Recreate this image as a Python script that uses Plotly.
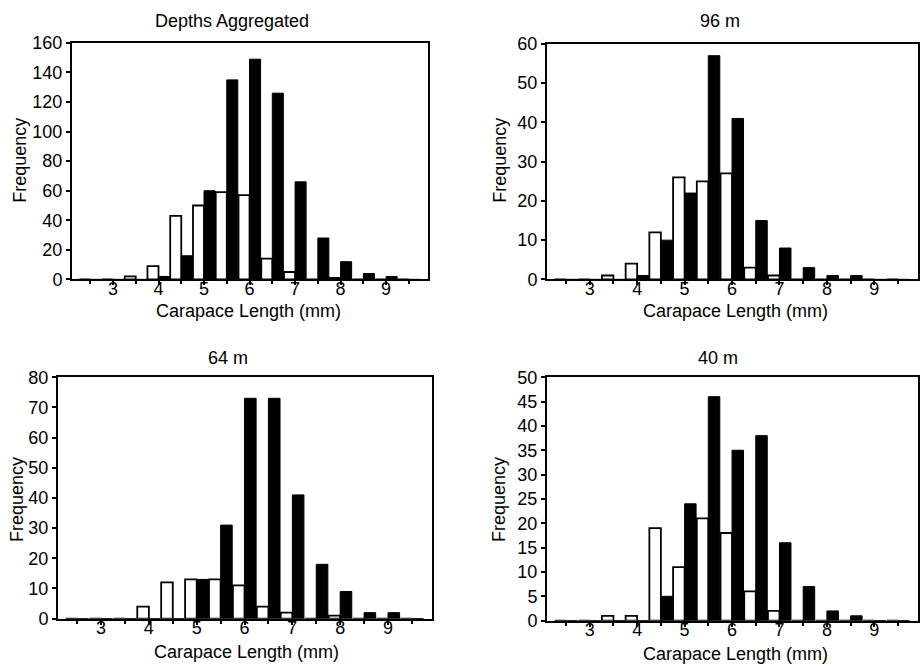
import plotly.graph_objects as go

# Bin centres (mm)
bins = [2.5, 3.0, 3.5, 4.0, 4.5, 5.0, 5.5, 6.0, 6.5, 7.0, 7.5, 8.0, 8.5, 9.0, 9.5]

agg_white = [0, 0, 2, 9, 43, 50, 59, 57, 14, 5, 0, 1, 0, 0, 0]
agg_black = [0, 0, 0, 2, 16, 60, 135, 149, 126, 66, 28, 12, 4, 2, 0]

m96_white = [0, 0, 1, 4, 12, 26, 25, 27, 3, 1, 0, 0, 0, 0, 0]
m96_black = [0, 0, 0, 1, 10, 22, 57, 41, 15, 8, 3, 1, 1, 0, 0]

m64_white = [0, 0, 0, 4, 12, 13, 13, 11, 4, 2, 0, 1, 0, 0, 0]
m64_black = [0, 0, 0, 0, 0, 13, 31, 73, 73, 41, 18, 9, 2, 2, 0]

m40_white = [0, 0, 1, 1, 19, 11, 21, 18, 6, 2, 0, 0, 0, 0, 0]
m40_black = [0, 0, 0, 0, 5, 24, 46, 35, 38, 16, 7, 2, 1, 0, 0]

titles = ["Depths Aggregated", "96 m", "64 m", "40 m"]
y_max = [160, 60, 80, 50]
y_dtick = [20, 10, 10, 5]
x_title = "Carapace Length (mm)"
y_title = "Frequency"

panels = [(agg_white, agg_black), (m96_white, m96_black),
          (m64_white, m64_black), (m40_white, m40_black)]

W, H = 920, 664
# plot-area pixel boxes (target picture pixels): left, right, top, bottom
boxes = [(72, 428, 42, 279), (547, 918, 43, 279),
         (58, 432, 377, 619), (547, 918, 377, 621)]
title_pos = [(232, 20), (720, 20), (228, 358), (718, 358)]
xt_pos = [(248, 311), (735, 311), (246, 652), (735, 654)]
yt_pos = [(20, 160), (500, 160), (17, 500), (499, 500)]


def fy(Y):
    # picture row -> paper fraction (calibrated for the capture's vertical mapping)
    return 1 - ((Y - 9) / 0.972) / H


FONT = "Liberation Sans, Arial, sans-serif"
FS = 18

fig = go.Figure()
ann = []
for i, ((wv, bv), (l, r, t, b)) in enumerate(zip(panels, boxes)):
    k = "" if i == 0 else str(i + 1)
    xa, ya = "x" + k, "y" + k
    fig.add_trace(go.Bar(x=bins, y=wv, xaxis=xa, yaxis=ya,
                         marker=dict(color="white", line=dict(color="black", width=1.8)),
                         showlegend=False))
    fig.add_trace(go.Bar(x=bins, y=bv, xaxis=xa, yaxis=ya,
                         marker=dict(color="black", line=dict(color="black", width=1)),
                         showlegend=False))
    fig.layout["xaxis" + k] = dict(
        domain=[l / W, r / W], anchor=ya, range=[2.1, 9.92],
        tickmode="linear", tick0=3, dtick=1, ticks="outside", ticklen=4,
        tickwidth=1.5, tickcolor="black", ticklabelstandoff=-12,
        minor=dict(dtick=0.5, tick0=2.5, ticks="outside", ticklen=3, tickcolor="black"),
        showline=True, linecolor="black", linewidth=2, mirror=True,
        showgrid=False, zeroline=False,
        tickfont=dict(family=FONT, size=FS, color="black"))
    fig.layout["yaxis" + k] = dict(
        domain=[fy(b), fy(t)], anchor=xa, range=[0, y_max[i]],
        tickmode="linear", tick0=0, dtick=y_dtick[i], ticks="outside", ticklen=4,
        tickwidth=1.5, tickcolor="black",
        showline=True, linecolor="black", linewidth=2, mirror=True,
        showgrid=False, zeroline=False,
        tickfont=dict(family=FONT, size=FS, color="black"))
    common = dict(xref="paper", yref="paper", showarrow=False,
                  xanchor="center", yanchor="middle",
                  font=dict(family=FONT, size=FS, color="black"))
    ann.append(dict(text=titles[i], x=title_pos[i][0] / W, y=fy(title_pos[i][1]), **common))
    ann.append(dict(text=x_title, x=xt_pos[i][0] / W, y=fy(xt_pos[i][1]), **common))
    ann.append(dict(text=y_title, x=yt_pos[i][0] / W, y=fy(yt_pos[i][1]),
                    textangle=-90, **common))

fig.update_layout(width=W, height=H, margin=dict(l=0, r=0, t=0, b=0),
                  paper_bgcolor="white", plot_bgcolor="white",
                  barmode="group", bargap=0.03, bargroupgap=0,
                  annotations=ann)
fig.write_html("out.html", config={"displayModeBar": False},
               post_script="document.body.style.margin='0';"
                           "document.body.style.padding='0';"
                           "document.documentElement.style.overflow='hidden';")
